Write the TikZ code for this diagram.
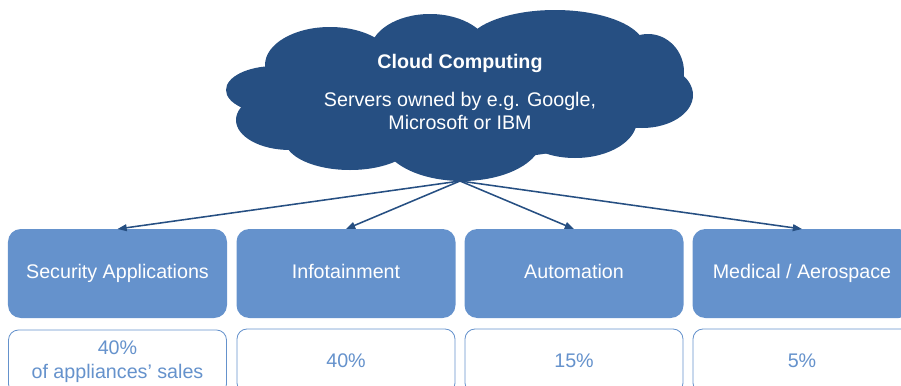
\documentclass[tikz,border=0pt]{standalone}
\usepackage{fontspec}
\setmainfont{Liberation Sans}
\usetikzlibrary{arrows.meta}
\definecolor{cloudblue}{HTML}{264F82}
\definecolor{boxblue}{HTML}{6592CC}
\begin{document}
\begin{tikzpicture}[x=0.25mm,y=-0.25mm,
  font=\fontsize{14}{16.4}\selectfont,
  topbox/.style={fill=boxblue, rounded corners=3.2mm, minimum width=54.75mm,
    minimum height=22.25mm, inner sep=0pt, outer sep=0pt, text=white, align=center,
    text height=0.716em, text depth=0pt},
  sharebox/.style={draw=boxblue, line width=0.6pt, fill=white, rounded corners=2.5mm,
    minimum width=54.5mm, minimum height=16mm, inner sep=0pt, text=boxblue,
    align=center, font=\fontsize{14}{17}\selectfont},
  link/.style={draw=cloudblue, line width=1.1pt,
    -{Triangle[length=2.3mm,width=1.7mm]}},
  puff/.style={fill=cloudblue}]
\useasboundingbox (0,0) rectangle (901,385);
\clip (0,0) rectangle (901,385);

% cloud silhouette built from overlapping lobes
\fill[puff] (275,90)  ellipse [x radius=49, y radius=24];
\fill[puff] (290,120) ellipse [x radius=54, y radius=30];
\fill[puff] (350,140) ellipse [x radius=65, y radius=30];
\fill[puff] (462,138) ellipse [x radius=80, y radius=43];
\fill[puff] (575,120) ellipse [x radius=62, y radius=38];
\fill[puff] (642,95)  ellipse [x radius=51, y radius=33];
\fill[puff] (648,72)  ellipse [x radius=36, y radius=38];
\fill[puff] (555,48)  ellipse [x radius=90, y radius=38];
\fill[puff] (430,52)  ellipse [x radius=60, y radius=38];
\fill[puff] (330,65)  ellipse [x radius=65, y radius=38];
\fill[puff] (460,100) ellipse [x radius=190, y radius=60];

\node[text=white, font=\fontsize{14}{16.4}\selectfont\bfseries,
  text height=0.716em, text depth=0pt] (cloudtitle) at (460,63) {Cloud Computing};
\node[text=white, align=center] (cloudtext) at (460,111) {Servers owned by e.g. Google,\\Microsoft or IBM};
\coordinate (hub) at (460,181);

% application areas
\node[topbox] (sec) at (117.5,273.5) {Security Applications};
\node[topbox] (info) at (346,273.5) {Infotainment};
\node[topbox] (auto) at (574,273.5) {Automation};
\node[topbox] (med) at (802,273.5) {Medical / Aerospace};

% market shares
\node[sharebox] (secshare) at (117.5,362) {40\%\\of appliances’ sales};
\node[sharebox] (infoshare) at (346,361) {40\%};
\node[sharebox] (autoshare) at (574,361) {15\%};
\node[sharebox] (medshare) at (802,361) {5\%};

% links from the cloud
\foreach \t in {sec,info,auto,med}
  \draw[link] (hub) -- (\t.north);
\end{tikzpicture}
\end{document}
